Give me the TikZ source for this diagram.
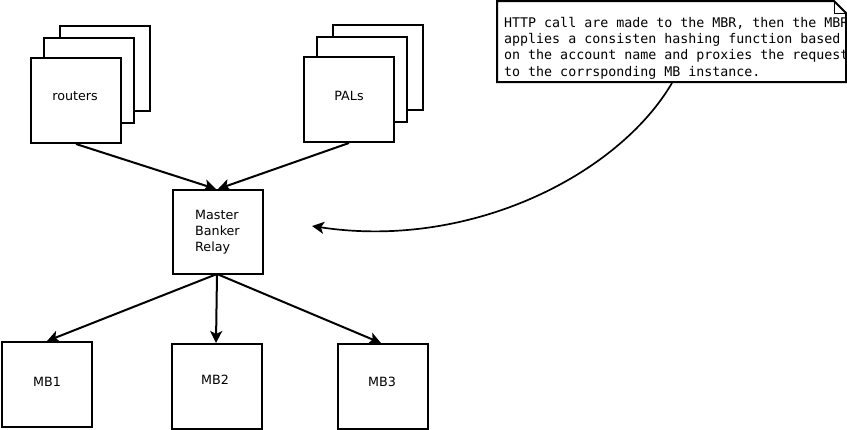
\documentclass[tikz,border=0pt]{standalone}
\usepackage{fontspec}
\setmainfont{DejaVu Sans}
\newfontfamily\notefont{DejaVu Sans Mono}
\usetikzlibrary{arrows.meta}
\begin{document}
\begin{tikzpicture}[x=1pt,y=-1pt,
  box/.style={draw,line width=2pt,fill=white,minimum width=90pt,minimum height=85pt,inner sep=0pt},
  lbl/.style={font=\fontsize{12.7}{16}\selectfont,inner sep=0pt},
  conn/.style={line width=2pt,-{Stealth[length=12pt,width=12pt,inset=3pt]}},
  notebox/.style={line width=2pt,fill=white}]
\useasboundingbox (0,0) rectangle (847,429);
\clip (0,0) rectangle (847,429);
% routers stack
\node[box,anchor=north west] (r3) at (59,25) {};
\node[box,anchor=north west] (r2) at (43,37) {};
\node[box,anchor=north west] (r1) at (30,57) {};
\node[lbl] (rt) at (75,96) {routers};
% PALs stack
\node[box,anchor=north west] (p3) at (332,24) {};
\node[box,anchor=north west] (p2) at (316,36) {};
\node[box,anchor=north west] (p1) at (303,56) {};
\node[lbl] (pt) at (349,96) {PALs};
% MBR
\node[box,anchor=north west,minimum height=84pt] (mbr) at (172,189) {};
\node[lbl,anchor=north west,align=left] (mbrt) at (195,210) {Master\\Banker\\Relay};
% MBs
\node[box,anchor=north west] (mb1) at (1,341) {};
\node[lbl] (mb1t) at (47,382) {MB1};
\node[box,anchor=north west] (mb2) at (171,343) {};
\node[lbl] (mb2t) at (215,380) {MB2};
\node[box,anchor=north west] (mb3) at (337,343) {};
\node[lbl] (mb3t) at (382,382) {MB3};
% connector anchor coordinates
\coordinate (rtop) at (216,189);
\coordinate (ptop) at (218,189);
\coordinate (mbot) at (217,274);
\coordinate (mb1top) at (47,341);
\coordinate (mb2top) at (216,343);
\coordinate (mb3top) at (381,343);
\coordinate (nbot) at (672,83);
\coordinate (ntip) at (312,226);
\draw[conn] (r1.south) -- (rtop);
\draw[conn] (p1.south) -- (ptop);
\draw[conn] (mbot) -- (mb1top);
\draw[conn] (mbot) -- (mb2top);
\draw[conn] (mbot) -- (mb3top);
% note
\draw[notebox] (497,1) -- (834,1) -- (846,13) -- (846,82) -- (497,82) -- cycle;
\draw[line width=1pt] (834,1) -- (834,13) -- (846,13);
\node[inner sep=0pt,anchor=north west,align=left,font=\notefont\fontsize{13.3}{16.3}\selectfont] (note) at (504,16.9)
 {HTTP call are made to the MBR, then the MBR\\applies a consisten hashing function based\\on the account name and proxies the request\\to the corrsponding MB instance.};
\draw[conn,line width=1.7pt] (nbot) .. controls (618,175) and (470,250) .. (ntip);
\end{tikzpicture}
\end{document}
